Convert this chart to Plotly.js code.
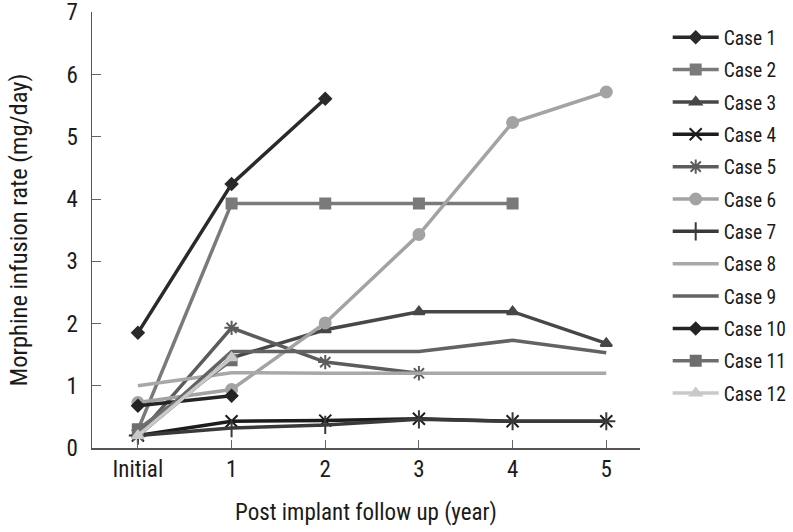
<!DOCTYPE html>
<html>
<head>
<meta charset="utf-8">
<script src="https://cdn.plot.ly/plotly-3.0.1.min.js"></script>
<style>html,body{margin:0;padding:0;background:#fff;}#chart{width:793px;height:532px;}</style>
</head>
<body>
<div id="chart"></div>
<script>
const timePoints = [0, 1, 2, 3, 4, 5];
const tickLabels = ["Initial", "1", "2", "3", "4", "5"];
const yTicks = [0, 1, 2, 3, 4, 5, 6, 7];
const caseNames = ["Case 1","Case 2","Case 3","Case 4","Case 5","Case 6","Case 7","Case 8","Case 9","Case 10","Case 11","Case 12"];

const case1  = [1.85, 4.24, 5.61];
const case2  = [0.29, 3.93, 3.93, 3.93, 3.93];
const case3  = [0.20, 1.45, 1.90, 2.19, 2.19, 1.68];
const case4  = [0.20, 0.43, 0.44, 0.47, 0.43, 0.43];
const case5  = [0.20, 1.93, 1.38, 1.20];
const case6  = [0.73, 0.94, 2.01, 3.43, 5.23, 5.72];
const case7  = [0.20, 0.32, 0.37, 0.46, 0.43, 0.43];
const case8  = [1.00, 1.21, 1.20, 1.20, 1.20, 1.20];
const case9  = [0.20, 1.55, 1.55, 1.55, 1.73, 1.53];
const case10 = [0.68, 0.84];
const case11 = [0.30, 1.41];
const case12 = [0.20, 1.45];

const seriesValues = [case1,case2,case3,case4,case5,case6,case7,case8,case9,case10,case11,case12];
const colors = ["#2a2a2a","#7a7a7a","#474747","#1c1c1c","#5c5c5c","#a3a3a3","#3a3a3a","#a8a8a8","#636363","#242424","#6e6e6e","#c9c9c9"];
const symbols = ["diamond","square","triangle-up","x-thin-open","asterisk-open","circle","cross-thin-open",null,null,"diamond","square","triangle-up"];
const sizes = [9,10,10,12,12,11,13,0,0,9,10,10];

const traces = seriesValues.map((vals, i) => {
  const t = {
    type: "scatter",
    x: timePoints.slice(0, vals.length),
    y: vals,
    name: caseNames[i],
    legendgroup: "g" + i,
    line: {color: colors[i], width: 3.5},
    mode: symbols[i] ? "lines+markers" : "lines"
  };
  if (symbols[i]) {
    t.marker = {symbol: symbols[i], size: sizes[i], color: colors[i], line: {color: colors[i], width: 2}};
  }
  return t;
});

const fontFam = "'Roboto Condensed','Liberation Sans Narrow','DejaVu Sans Condensed','Roboto',sans-serif";

const layout = {
  width: 793, height: 532,
  margin: {l: 92, r: 153, t: 12, b: 84},
  paper_bgcolor: "#fff", plot_bgcolor: "#fff",
  font: {family: fontFam, color: "#1a1a1a"},
  showlegend: true,
  legend: {xref: "container", yref: "container", x: 0.842, y: 0.966, xanchor: "left", yanchor: "top",
           maxheight: 1, tracegroupgap: 4, font: {size: 19.5, family: fontFam, color: "#1a1a1a"}, itemwidth: 46},
  xaxis: {
    range: [-0.49, 5.36], tickvals: timePoints, ticktext: tickLabels,
    showgrid: false, zeroline: false, showline: true, linecolor: "#555", linewidth: 1.5,
    ticks: "inside", ticklen: 8, tickcolor: "#666", tickwidth: 1,
    tickfont: {size: 23, family: fontFam, color: "#1a1a1a"},
    title: {text: "Post implant follow up (year)", font: {size: 23, family: fontFam, color: "#1a1a1a"}, standoff: 22}
  },
  yaxis: {
    range: [0, 7.005], tickvals: yTicks,
    showgrid: false, zeroline: false, showline: true, linecolor: "#555", linewidth: 1.5,
    ticks: "inside", ticklen: 9, tickcolor: "#666", tickwidth: 1,
    ticklabelstandoff: 8, ticklabeloverflow: "allow",
    tickfont: {size: 23, family: fontFam, color: "#1a1a1a"},
    title: {text: "Morphine infusion rate (mg/day)", font: {size: 24.5, family: fontFam, color: "#1a1a1a"}, standoff: 32}
  }
};

Plotly.newPlot("chart", traces, layout, {displayModeBar: false, staticPlot: true});
</script>
</body>
</html>
